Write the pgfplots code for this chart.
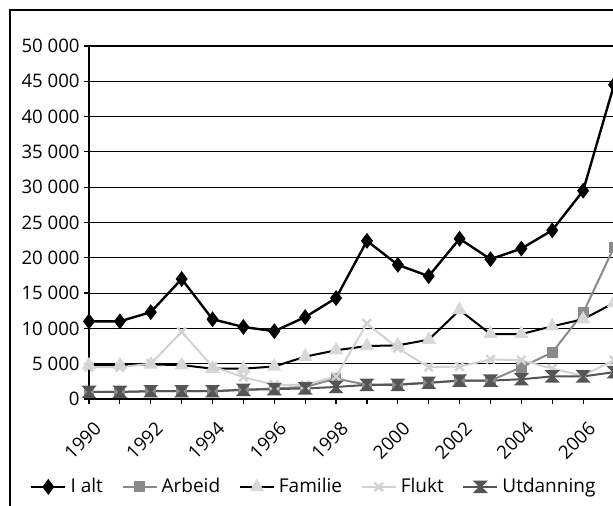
\documentclass[border=0pt]{standalone}
\usepackage{fontspec}
\setmainfont{Open Sans}
\usepackage{pgfplots}
\pgfplotsset{compat=1.18}
\definecolor{arb}{HTML}{8A8A8A}
\definecolor{famm}{HTML}{D8D8D8}
\definecolor{flu}{HTML}{D2D2D2}
\definecolor{utd}{HTML}{555555}
\pgfdeclareplotmark{hourglass}{%
 \pgfpathmoveto{\pgfqpoint{-\pgfplotmarksize}{\pgfplotmarksize}}%
 \pgfpathlineto{\pgfqpoint{\pgfplotmarksize}{\pgfplotmarksize}}%
 \pgfpathlineto{\pgfqpoint{-\pgfplotmarksize}{-\pgfplotmarksize}}%
 \pgfpathlineto{\pgfqpoint{\pgfplotmarksize}{-\pgfplotmarksize}}%
 \pgfpathclose
 \pgfusepathqfillstroke}
\begin{document}
\begin{tikzpicture}[font=\fontsize{9.3}{11}\selectfont]
\path[use as bounding box] (-44.5pt,-53.5pt) rectangle (262pt,199.5pt);
\clip (-44.5pt,-53.5pt) rectangle (262pt,199.5pt);
\draw[line width=1pt] (-39.5pt,-70pt) -- (-39.5pt,194.5pt) -- (280pt,194.5pt);
\begin{axis}[
  scale only axis,
  width=262.5pt, height=176.5pt,
  xmin=1990, xmax=2007, ymin=0, ymax=50000,
  xtick={1990,1992,...,2006},
  minor xtick={1991,1993,...,2007},
  xticklabels={1990,1992,1994,1996,1998,2000,2002,2004,2006},
  ytick={0,5000,...,50000},
  scaled y ticks=false,
  yticklabels={0,5 000,10 000,15 000,20 000,25 000,30 000,35 000,40 000,45 000,50 000},
  tick align=outside, major tick length=2.5pt, minor tick length=2.5pt,
  xtick pos=bottom, ytick pos=left,
  tick style={black, line width=0.6pt},
  ymajorgrids, grid style={black, line width=0.5pt},
  axis line style={line width=0.8pt},
  xticklabel style={anchor=east, xshift=4.5pt, yshift=-10.5pt, rotate=45, inner sep=0pt},
  yticklabel style={inner sep=2pt},
  legend columns=5,
  legend style={at={(0.43,-0.249)}, anchor=center, draw=none, fill=none,
    /tikz/every even column/.append style={column sep=7.3pt}, font=\fontsize{9.5}{11}\selectfont},
  legend cell align=left,
  clip=false,
]
\addplot[black, line width=1.2pt, mark=diamond*, mark size=3pt] coordinates {
(1990,11000) (1991,11000) (1992,12300) (1993,17000) (1994,11300) (1995,10200)
(1996,9600) (1997,11600) (1998,14300) (1999,22400) (2000,19000) (2001,17400)
(2002,22700) (2003,19800) (2004,21300) (2005,23900) (2006,29500) (2007,44500)};
\addlegendentry{I alt}
\addplot[arb, line width=1pt, mark=square*, mark size=2.2pt] coordinates {
(1990,1000) (1991,1000) (1992,1100) (1993,1100) (1994,1100) (1995,1300)
(1996,1500) (1997,1700) (1998,2900) (1999,2000) (2000,2100) (2001,2300)
(2002,2600) (2003,2600) (2004,4500) (2005,6600) (2006,12200) (2007,21500)};
\addlegendentry{Arbeid}
\addplot[black, line width=1pt, mark=triangle*, mark size=3.2pt, mark options={famm, draw=famm}] coordinates {
(1990,4800) (1991,4800) (1992,4900) (1993,4800) (1994,4300) (1995,4300)
(1996,4600) (1997,6000) (1998,6900) (1999,7500) (2000,7600) (2001,8400)
(2002,12600) (2003,9200) (2004,9200) (2005,10300) (2006,11300) (2007,13600)};
\addlegendentry{Familie}
\addplot[flu, line width=1pt, mark=x, mark size=3pt, mark options={line width=1.2pt}] coordinates {
(1990,4500) (1991,4500) (1992,5000) (1993,9500) (1994,4600) (1995,3100)
(1996,2000) (1997,2000) (1998,3200) (1999,10700) (2000,7200) (2001,4500)
(2002,4600) (2003,5600) (2004,5500) (2005,4300) (2006,3300) (2007,5500)};
\addlegendentry{Flukt}
\addplot[utd, line width=1pt, mark=hourglass, mark size=2.6pt] coordinates {
(1990,1000) (1991,1000) (1992,1100) (1993,1100) (1994,1100) (1995,1300)
(1996,1400) (1997,1500) (1998,1700) (1999,2000) (2000,2000) (2001,2300)
(2002,2600) (2003,2600) (2004,2800) (2005,3200) (2006,3200) (2007,3800)};
\addlegendentry{Utdanning}
\end{axis}
\end{tikzpicture}
\end{document}
